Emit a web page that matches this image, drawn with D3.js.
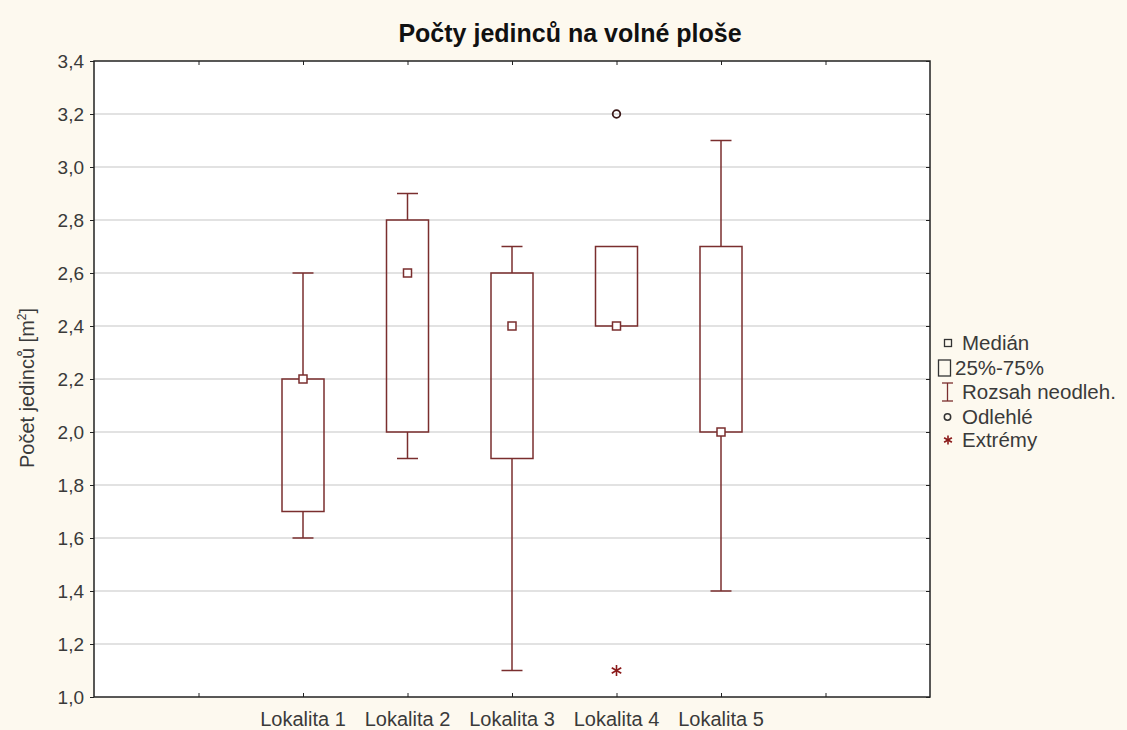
<!DOCTYPE html>
<html><head><meta charset="utf-8">
<script src="https://cdn.jsdelivr.net/npm/d3@7"></script>
<style>body{margin:0;background:#fdf9ef;}svg{display:block;}text{font-family:Arial,"Liberation Sans",sans-serif;}</style>
</head><body><svg id="c" width="1127" height="730"></svg>
<script>
const categories = ["Lokalita 1","Lokalita 2","Lokalita 3","Lokalita 4","Lokalita 5"];
const mins    = [1.6, 1.9, 1.1, 2.4, 1.4];
const q1s     = [1.7, 2.0, 1.9, 2.4, 2.0];
const medians = [2.2, 2.6, 2.4, 2.4, 2.0];
const q3s     = [2.2, 2.8, 2.6, 2.7, 2.7];
const maxs    = [2.6, 2.9, 2.7, 2.7, 3.1];
const outliers = [{cat:"Lokalita 4", v:3.2}];
const extremes = [{cat:"Lokalita 4", v:1.1}];
const yTicks = [1.0,1.2,1.4,1.6,1.8,2.0,2.2,2.4,2.6,2.8,3.0,3.2,3.4];
const legendItems = ["Medián","25%-75%","Rozsah neodleh.","Odlehlé","Extrémy"];

const col = "#7a2e2e";
const txt = "#3a3a3a";
const svg = d3.select("#c");
const L=94, R=930, T=61, B=697;
const slots = ["_a"].concat(categories).concat(["_b"]);
const x = d3.scalePoint().domain(slots).range([L,R]).padding(1);
const y = d3.scaleLinear().domain([1.0,3.4]).range([B,T]);
const fmt = d => d.toFixed(1).replace(".",",");

svg.append("rect").attr("x",L).attr("y",T).attr("width",R-L).attr("height",B-T).attr("fill","#fff");
// grid
svg.append("g").selectAll("line").data(yTicks.slice(1,-1)).join("line")
  .attr("x1",L).attr("x2",R).attr("y1",d=>y(d)).attr("y2",d=>y(d))
  .attr("stroke","#d9d9d9").attr("stroke-width",1.3);
// left axis
const ya = svg.append("g").attr("transform",`translate(${L},0)`)
  .call(d3.axisLeft(y).tickValues(yTicks).tickFormat(fmt).tickSize(4).tickPadding(6));
ya.select(".domain").remove();
ya.selectAll("line").attr("stroke","#222");
ya.selectAll("text").attr("font-size",19).attr("fill",txt);
// right ticks inward
svg.append("g").attr("transform",`translate(${R},0)`)
  .call(d3.axisLeft(y).tickValues(yTicks).tickFormat("").tickSize(4))
  .call(g=>{g.select(".domain").remove();g.selectAll("line").attr("stroke","#222");});
// bottom axis
const xa = svg.append("g").attr("transform",`translate(0,${B})`)
  .call(d3.axisTop(x).tickSize(4).tickFormat(""));
xa.select(".domain").remove(); xa.selectAll("line").attr("stroke","#222");
svg.append("g").selectAll("text").data(categories).join("text")
  .attr("x",d=>x(d)).attr("y",B+29).attr("text-anchor","middle")
  .attr("font-size",20).attr("fill",txt).text(d=>d);
const xt = svg.append("g").attr("transform",`translate(0,${T})`)
  .call(d3.axisBottom(x).tickSize(4).tickFormat(""));
xt.select(".domain").remove(); xt.selectAll("line").attr("stroke","#222");
// frame
svg.append("rect").attr("x",L).attr("y",T).attr("width",R-L).attr("height",B-T)
  .attr("fill","none").attr("stroke","#222").attr("stroke-width",1.5);

// boxes
const bw=42, cw=21, ms=8;
const g = svg.append("g");
categories.forEach((c,i)=>{
  const cx = x(c);
  if (maxs[i]>q3s[i]) {
    g.append("line").attr("x1",cx).attr("x2",cx).attr("y1",y(q3s[i])).attr("y2",y(maxs[i])).attr("stroke",col).attr("stroke-width",1.5);
    g.append("line").attr("x1",cx-cw/2).attr("x2",cx+cw/2).attr("y1",y(maxs[i])).attr("y2",y(maxs[i])).attr("stroke",col).attr("stroke-width",1.5);
  }
  if (mins[i]<q1s[i]) {
    g.append("line").attr("x1",cx).attr("x2",cx).attr("y1",y(q1s[i])).attr("y2",y(mins[i])).attr("stroke",col).attr("stroke-width",1.5);
    g.append("line").attr("x1",cx-cw/2).attr("x2",cx+cw/2).attr("y1",y(mins[i])).attr("y2",y(mins[i])).attr("stroke",col).attr("stroke-width",1.5);
  }
  g.append("rect").attr("x",cx-bw/2).attr("y",y(q3s[i])).attr("width",bw).attr("height",y(q1s[i])-y(q3s[i]))
    .attr("fill","none").attr("stroke",col).attr("stroke-width",1.5);
  g.append("rect").attr("x",cx-ms/2).attr("y",y(medians[i])-ms/2).attr("width",ms).attr("height",ms)
    .attr("fill","#fff").attr("stroke",col).attr("stroke-width",1.5);
});
outliers.forEach(o=>{
  g.append("circle").attr("cx",x(o.cat)).attr("cy",y(o.v)).attr("r",3.8).attr("fill","none").attr("stroke","#3a1818").attr("stroke-width",1.8);
});
const star = (sel,cx,cy,r)=>{
  [0,60,120].forEach(a=>{
    const rad=a*Math.PI/180;
    sel.append("line").attr("x1",cx-r*Math.sin(rad)).attr("x2",cx+r*Math.sin(rad))
      .attr("y1",cy-r*Math.cos(rad)).attr("y2",cy+r*Math.cos(rad)).attr("stroke","#8b1a1a").attr("stroke-width",1.6);
  });
};
extremes.forEach(o=>star(g,x(o.cat),y(o.v),5.5));

// title
svg.append("text").attr("x",570).attr("y",42).attr("text-anchor","middle")
  .attr("font-size",25).attr("font-weight","bold").attr("fill","#111").text("Počty jedinců na volné ploše");
// y label
const yl = svg.append("text").attr("transform","translate(34,388) rotate(-90)").attr("text-anchor","middle")
  .attr("font-size",20).attr("fill",txt);
yl.append("tspan").text("Počet jedinců [m");
yl.append("tspan").attr("font-size",12).attr("dy",-8).text("2");
yl.append("tspan").attr("dy",8).text("]");

// legend
const lg = svg.append("g");
const ly = [343,368,392,417,440];
const lx = [962,955,962,962,962];
legendItems.forEach((t,i)=>{
  lg.append("text").attr("x",lx[i]).attr("y",ly[i]+7).attr("font-size",20.5).attr("fill",txt).text(t);
});
lg.append("rect").attr("x",944.5).attr("y",ly[0]-3.5).attr("width",7).attr("height",7).attr("fill","none").attr("stroke","#333").attr("stroke-width",1.3);
lg.append("rect").attr("x",938.5).attr("y",ly[1]-8).attr("width",12).attr("height",16).attr("fill","none").attr("stroke","#333").attr("stroke-width",1.3);
lg.append("line").attr("x1",947.5).attr("x2",947.5).attr("y1",ly[2]-9).attr("y2",ly[2]+9).attr("stroke",col).attr("stroke-width",1.3);
lg.append("line").attr("x1",942).attr("x2",953).attr("y1",ly[2]-9).attr("y2",ly[2]-9).attr("stroke",col).attr("stroke-width",1.3);
lg.append("line").attr("x1",942).attr("x2",953).attr("y1",ly[2]+9).attr("y2",ly[2]+9).attr("stroke",col).attr("stroke-width",1.3);
lg.append("circle").attr("cx",947.5).attr("cy",ly[3]).attr("r",3.2).attr("fill","none").attr("stroke","#333").attr("stroke-width",1.5);
star(lg,948,ly[4],4.5);
</script></body></html>
